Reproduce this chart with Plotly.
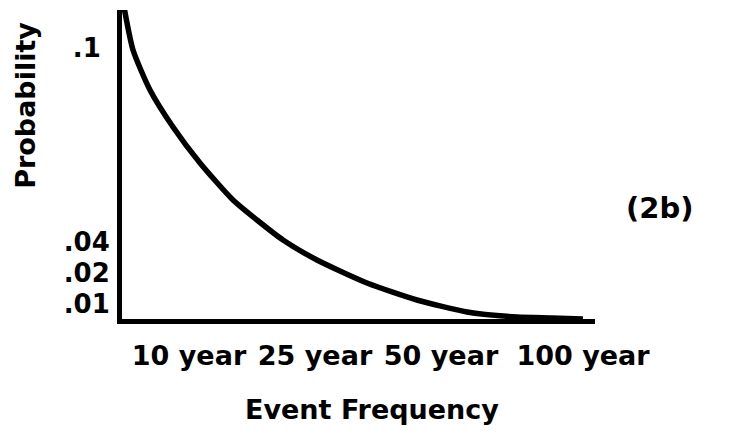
import plotly.graph_objects as go

# Schematic curve (arbitrary drawing units: x across, height up)
curve_x = [2, 11, 28, 51, 78, 111, 135, 161, 195, 245, 295, 345, 395, 430, 461]
curve_y = [312, 269, 229, 192, 156, 119, 99, 79, 59, 36, 19, 7, 2, 1, 0]

# Tick labels
y_tick_labels = [".1\u00a0", ".04", ".02", ".01"]
y_tick_vals = [271, 77, 46, 15]
x_tick_labels = ["10 year", "25 year", "50 year", "100 year"]
x_tick_vals = [67, 193, 319, 461]

FONT = "DejaVu Sans, Liberation Sans, Arial, sans-serif"

fig = go.Figure()
fig.add_trace(go.Scatter(
    x=curve_x, y=curve_y, mode="lines",
    line=dict(color="black", width=5.5, shape="spline", smoothing=0.6),
    cliponaxis=False, hoverinfo="skip", showlegend=False,
))

fig.update_layout(
    template="none",
    width=736, height=425,
    margin=dict(l=114, r=149, t=2, b=114, pad=0),
    paper_bgcolor="white", plot_bgcolor="white",
    font=dict(family=FONT, color="black"),
    xaxis=dict(
        range=[0, 473], showgrid=False, zeroline=False, automargin=False,
        showline=True, linecolor="black", linewidth=5,
        tickmode="array", tickvals=x_tick_vals, ticktext=x_tick_labels,
        ticks="", ticklabelstandoff=9,
        tickfont=dict(family=FONT, size=27, weight="bold", color="black"),
    ),
    yaxis=dict(
        range=[0, 309], showgrid=False, zeroline=False, automargin=False,
        showline=True, linecolor="black", linewidth=5,
        tickmode="array", tickvals=y_tick_vals, ticktext=y_tick_labels,
        ticks="", ticklabelstandoff=2,
        tickfont=dict(family=FONT, size=26, weight="bold", color="black"),
    ),
    annotations=[
        dict(text="Probability", xref="paper", yref="paper", x=-0.203, y=0.693,
             xanchor="center", yanchor="middle",
             textangle=-90, showarrow=False,
             font=dict(family=FONT, size=27, weight="bold", color="black")),
        dict(text="Event Frequency", xref="paper", yref="paper", x=0.529, y=-0.294,
             xanchor="center", yanchor="middle", showarrow=False,
             font=dict(family=FONT, size=27, weight="bold", color="black")),
        dict(text="(2b)", xref="paper", yref="paper", x=1.137, y=0.359,
             xanchor="center", yanchor="middle", showarrow=False,
             font=dict(family=FONT, size=29, weight="bold", color="black")),
    ],
)

fig.write_html("out.html")
